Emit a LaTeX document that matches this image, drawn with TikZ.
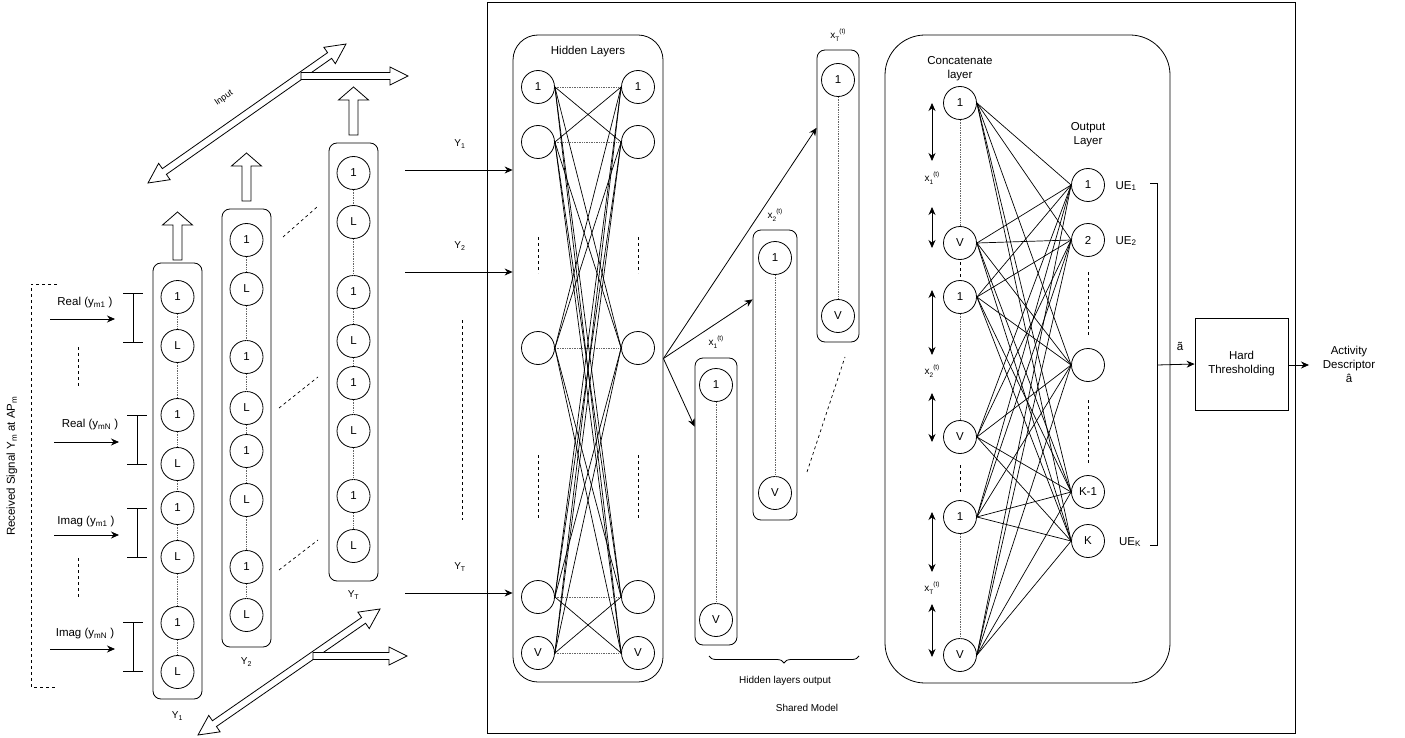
\documentclass[tikz,border=0pt]{standalone}
\usepackage{fontspec}
\setmainfont{Liberation Sans}
\usetikzlibrary{arrows.meta,calc,decorations.pathreplacing}

% x with an index and a following (t) superscript
\newcommand{\xsup}[1]{x\raisebox{-0.3em}{\fontsize{6.5}{7}\selectfont#1}\raisebox{0.55em}{\fontsize{6.5}{7}\selectfont(t)}}

\tikzset{
  neuron/.style={circle,draw,line width=0.8pt,minimum size=33pt,inner sep=0pt,font=\fontsize{11.5}{13}\selectfont},
  colbox/.style={draw,line width=0.8pt,rounded corners=8pt,inner sep=0pt},
  lbl/.style={font=\fontsize{11.5}{14}\selectfont,align=center,inner sep=0pt},
  sml/.style={font=\fontsize{10}{12}\selectfont,align=center,inner sep=0pt},
  arr/.style={line width=0.8pt,-{Stealth[length=8pt,width=7pt]}},
  darr/.style={line width=0.8pt,{Stealth[length=8pt,width=7pt]}-{Stealth[length=8pt,width=7pt]}},
  dots/.style={densely dotted,gray!80!black,line width=0.7pt},
  gapline/.style={line width=0.7pt,dash pattern=on 3pt off 3pt},
  link/.style={line width=0.7pt},
  hollow/.style={draw,fill=white,line width=0.8pt,line join=miter},
  upblock/.pic={\draw[hollow] (-4.5,0) -- (-4.5,-35) -- (-15,-35) -- (0,-48) -- (15,-35) -- (4.5,-35) -- (4.5,0) -- cycle;},
}

\begin{document}
\begin{tikzpicture}[x=1pt,y=-1pt,line width=0.8pt]
\useasboundingbox (0,0) rectangle (1405,738);

% ---------- received signal labels ----------
\node[lbl,rotate=90] (recv) at (12,466) {Received Signal Y\textsubscript{m} at AP\textsubscript{m}};
\draw[gapline] (57,284) -- (31,284) -- (31,687) -- (57,687);

\foreach \ty/\ay/\bx/\by/\tx/\ax/\txt [count=\k] in
  {303/319/133/293/85/50/{Real (y\textsubscript{m1} )},
   425/442/137/415/90/54/{Real (y\textsubscript{mN} )},
   522/535/137/508/86/54/{Imag (y\textsubscript{m1} )},
   634/649/133/622/85/50/{Imag (y\textsubscript{mN} )}}{
  \node[lbl] (sig\k) at (\tx,\ty) {\txt};
  \coordinate (sa\k) at (\ax,\ay);
  \coordinate (sb\k) at (\ax+65,\ay);
  \draw[arr] (sa\k) -- (sb\k);
  \draw (\bx-10,\by) -- (\bx+10,\by);
  \draw (\bx,\by) -- (\bx,\by+49);
  \draw (\bx-10,\by+49) -- (\bx+10,\by+49);
}
\draw[gapline] (78,347) -- (78,388);
\draw[gapline] (78,558) -- (78,600);

% ---------- input columns ----------
\node[colbox,minimum width=49pt,minimum height=436pt] (colA) at (177.5,481) {};
\node[colbox,minimum width=49pt,minimum height=438pt] (colB) at (246.5,428) {};
\node[colbox,minimum width=49pt,minimum height=438pt] (colC) at (353.5,362) {};

\foreach \y/\t [count=\k] in {297/1,346/L,415/1,464/L,508/1,557/L,623/1,672/L}
  \node[neuron] (a\k) at (177.5,\y) {\t};
\foreach \y/\t [count=\k] in {240/1,289/L,357/1,408/L,451/1,500/L,567/1,615/L}
  \node[neuron] (b\k) at (246.5,\y) {\t};
\foreach \y/\t [count=\k] in {173/1,222/L,292/1,341/L,383/1,431/L,496/1,546/L}
  \node[neuron] (c\k) at (353.5,\y) {\t};
\foreach \k [evaluate=\k as \n using int(\k+1)] in {1,...,7}{
  \draw[dots] (a\k) -- (a\n);
  \draw[dots] (b\k) -- (b\n);
  \draw[dots] (c\k) -- (c\n);
}

\node[sml] (labA) at (177.5,716) {Y\textsubscript{1}};
\node[sml] (labB) at (246.5,662) {Y\textsubscript{2}};
\node[sml] (labC) at (353.5,595) {Y\textsubscript{T}};

\draw[gapline] (283,237) -- (317,207);
\draw[gapline] (279,408) -- (318,377);
\draw[gapline] (279,570) -- (318,540);

% hollow up arrows above the columns
\pic at (177.5,260) {upblock};
\pic at (246.5,201) {upblock};
\pic at (353.5,135) {upblock};

% ---------- input direction arrows ----------
\begin{scope}[shift={(148,183)},rotate=35.07]
  \draw[hollow] (0,0) -- (20,10) -- (20,3.5) -- (221.9,3.5) -- (221.9,10) -- (241.9,0)
     -- (221.9,-10) -- (221.9,-3.5) -- (20,-3.5) -- (20,-10) -- cycle;
\end{scope}
\draw[hollow] (301,72.5) -- (390,72.5) -- (390,67) -- (408,76) -- (390,85) -- (390,79.5) -- (301,79.5) -- cycle;
\node[sml,rotate=35,font=\fontsize{9}{11}\selectfont] (inlab) at (224,98) {Input};

\begin{scope}[shift={(198,735)},rotate=34.7]
  \draw[hollow] (0,0) -- (20,10) -- (20,3.5) -- (201.4,3.5) -- (201.4,10) -- (221.4,0)
     -- (201.4,-10) -- (201.4,-3.5) -- (20,-3.5) -- (20,-10) -- cycle;
\end{scope}
\draw[hollow] (313,652.5) -- (389,652.5) -- (389,647) -- (407,656) -- (389,665) -- (389,659.5) -- (313,659.5) -- cycle;

% ---------- shared model ----------
\node[draw,line width=0.8pt,minimum width=808pt,minimum height=731pt,inner sep=0pt] (shared) at (891,367.5) {};
\node[sml] (sharedlab) at (807,708) {Shared Model};

% hidden layers
\node[draw,line width=0.8pt,rounded corners=25pt,minimum width=150pt,minimum height=647pt,inner sep=0pt] (hid) at (588,358.5) {};
\node[lbl] (hidlab) at (588,52) {Hidden Layers};

\foreach \y/\t [count=\k] in {87/1,142/,348/,597/,653/V}{
  \node[neuron] (hl\k) at (538,\y) {\t};
  \node[neuron] (hr\k) at (638,\y) {\t};
}
\foreach \i in {1,...,5}{
  \foreach \j in {1,...,5}{
    \ifnum\i=\j\relax
      \draw[dots] (hl\i.east) -- (hr\j.west);
    \else
      \draw[link] (hl\i.east) -- (hr\j.west);
    \fi
  }
}
\foreach \x in {538,638}{
  \draw[gapline] (\x,237) -- (\x,273);
  \draw[gapline] (\x,455) -- (\x,520);
}

% inputs into the hidden layers
\foreach \y/\t [count=\k] in {170/{Y\textsubscript{1}},272/{Y\textsubscript{2}},593/{Y\textsubscript{T}}}{
  \coordinate (yin\k) at (405,\y);
  \draw[arr] (yin\k) -- (yin\k -| hid.west);
  \node[sml] (ylab\k) at (460,\y-26) {\t};
}
\draw[gapline] (462,320) -- (462,520);

% hidden layer outputs
\node[colbox,minimum width=42pt,minimum height=287pt] (colX1) at (716,501.5) {};
\node[colbox,minimum width=44pt,minimum height=290pt] (colX2) at (775,375) {};
\node[colbox,minimum width=42pt,minimum height=292pt] (colXT) at (838,196) {};
\node[neuron] (x1a) at (716,385) {1};
\node[neuron] (x1b) at (716,620) {V};
\node[neuron] (x2a) at (775,258) {1};
\node[neuron] (x2b) at (775,493) {V};
\node[neuron] (xTa) at (838,80) {1};
\node[neuron] (xTb) at (838,316) {V};
\draw[dots] (x1a) -- (x1b);
\draw[dots] (x2a) -- (x2b);
\draw[dots] (xTa) -- (xTb);
\node[sml] (x1lab) at (716,342) {\xsup{1}};
\node[sml] (x2lab) at (775,215) {\xsup{2}};
\node[sml] (xTlab) at (838,35) {\xsup{T}};
\draw[gapline] (807,472) -- (845,357);

\draw[arr] (hid.east) -- ($(colXT.north west)!0.267!(colXT.south west)$);
\draw[arr] (hid.east) -- ($(colX2.north west)!0.24!(colX2.south west)$);
\draw[arr] (hid.east) -- ($(colX1.north west)!0.24!(colX1.south west)$);

\draw[decorate,decoration={brace,amplitude=7pt},line width=0.8pt] (859,656) -- (709,656);
\node[sml] (hlo) at (785,681) {Hidden layers output};

% concatenate and output layers
\node[draw,line width=0.8pt,rounded corners=40pt,minimum width=285pt,minimum height=648pt,inner sep=0pt] (cat) at (1027.5,359) {};
\node[lbl] (catlab) at (960,69) {Concatenate\\layer};
\node[lbl] (outlab) at (1088,135) {Output\\Layer};

\foreach \y/\t [count=\k] in {103/1,243/V,297/1,437/V,517/1,655/V}
  \node[neuron] (cn\k) at (960,\y) {\t};
\foreach \y/\t [count=\k] in {185/1,240/2,365/,492/K-1,541/K}
  \node[neuron] (on\k) at (1088,\y) {\t};
\draw[dots] (cn1) -- (cn2);
\draw[dots] (cn3) -- (cn4);
\draw[dots] (cn5) -- (cn6);
\draw[gapline] (960,262) -- (960,279);
\draw[gapline] (960,465) -- (960,492);
\draw[gapline] (1088,272) -- (1088,335);
\draw[gapline] (1088,400) -- (1088,463);

\foreach \i in {1,...,6}
  \foreach \j in {1,...,5}
    \draw[link] (cn\i.east) -- (on\j.west);

\foreach \ya/\yb [count=\k] in {103/161,207/248,290/355,393/442,512/572,604/657}{
  \coordinate (da\k) at (932,\ya);
  \coordinate (db\k) at (932,\yb);
  \draw[darr] (da\k) -- (db\k);
}
\node[sml] (cx1) at (932,178) {\xsup{1}};
\node[sml] (cx2) at (932,371) {\xsup{2}};
\node[sml] (cxT) at (932,588) {\xsup{T}};

\node[lbl] (ue1) at (1126,186) {UE\textsubscript{1}};
\node[lbl] (ue2) at (1126,241) {UE\textsubscript{2}};
\node[lbl] (ueK) at (1130,542) {UE\textsubscript{K}};
\draw (1150,183) -- (1157,183) -- (1157,545) -- (1150,545);
\coordinate (abar) at (1157,365);

% thresholding
\node[draw,line width=0.8pt,minimum width=93pt,minimum height=92pt,lbl] (ht) at (1241.5,364) {Hard\\Thresholding};
\draw[arr] (abar) -- (ht.west);
\node[lbl] (atil) at (1180,346) {ã};
\coordinate (aout) at (1309,365);
\draw[arr] (ht.east |- aout) -- (aout);
\node[lbl] (actlab) at (1349,364) {Activity\\Descriptor\\â};

\end{tikzpicture}
\end{document}
